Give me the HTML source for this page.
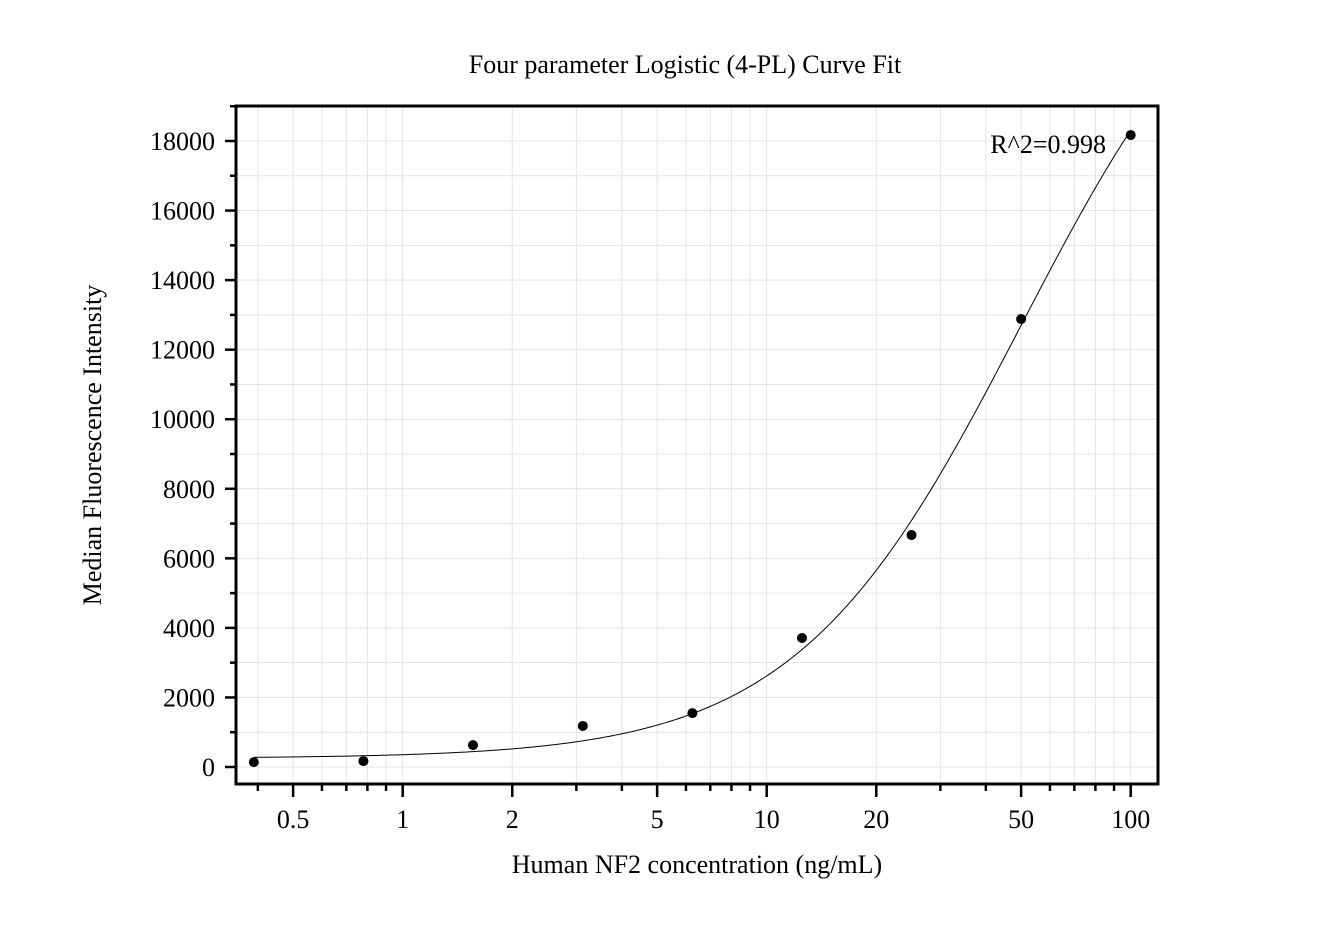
<!DOCTYPE html>
<html><head><meta charset="utf-8"><style>
html,body{margin:0;padding:0;background:#fff;}
svg{display:block;font-family:"Liberation Serif",serif;}
</style></head><body>
<svg id="s" width="1339" height="931" viewBox="0 0 1339 931" xmlns="http://www.w3.org/2000/svg">
<rect width="1339" height="931" fill="#fff"/>
<g id="grid" stroke="#e3e3e3" stroke-width="1"></g>
<path id="curve" fill="none" stroke="#000" stroke-width="1"/>
<g id="pts" fill="#000"></g>
<g id="ticks" stroke="#000" stroke-width="2.5"></g>
<rect x="236" y="106" width="922" height="678" fill="none" stroke="#000" stroke-width="3"/>
<g id="labels" font-size="26" fill="#000"></g>
<text x="685" y="73" font-size="26" text-anchor="middle">Four parameter Logistic (4-PL) Curve Fit</text>
<text x="697" y="873" font-size="26" text-anchor="middle">Human NF2 concentration (ng/mL)</text>
<text transform="translate(101,445) rotate(-90)" font-size="26" text-anchor="middle">Median Fluorescence Intensity</text>
<text x="1106" y="153" font-size="26" text-anchor="end">R^2=0.998</text>
</svg>
<script>
var NS="http://www.w3.org/2000/svg";
function X(v){return 402.7+364*Math.log10(v);}
function Y(v){return 767-v*(626/18000);}
function el(p,t,a,txt){var e=document.createElementNS(NS,t);for(var k in a)e.setAttribute(k,a[k]);if(txt!==undefined)e.textContent=txt;document.getElementById(p).appendChild(e);}
var L=236,R=1158,T=106,B=784;
var xs=[];
[0.1,1,10].forEach(function(d){for(var i=1;i<10;i++){var v=i*d;if(v>=0.4&&v<=100)xs.push(v);}});xs.push(100);
xs.forEach(function(v){var x=X(v);el("grid","line",{x1:x,y1:T,x2:x,y2:B});
 var major=[0.5,1,2,5,10,20,50,100].indexOf(v)>=0;
 el("ticks","line",{x1:x,y1:B,x2:x,y2:B+(major?13:7)});});
for(var v=0;v<=19000;v+=1000){var y=Y(v);el("grid","line",{x1:L,y1:y,x2:R,y2:y});
 var maj=v%2000==0;el("ticks","line",{x1:L,y1:y,x2:L-(maj?11:6),y2:y});
 if(maj&&v<=18000)el("labels","text",{x:L-21,y:y+9,"text-anchor":"end"},String(v));}
[[0.5,"0.5"],[1,"1"],[2,"2"],[5,"5"],[10,"10"],[20,"20"],[50,"50"],[100,"100"]].forEach(function(p){
 el("labels","text",{x:X(p[0]),y:828,"text-anchor":"middle"},p[1]);});
var a=250,d=24900,c=50,b=1.4,dstr="";
for(var i=0;i<=300;i++){var lx=Math.log10(0.39)+i/300*(Math.log10(100)-Math.log10(0.39));var x=Math.pow(10,lx);
 var f=Math.pow(x/c,b);var yv=a+d*f/(1+f);dstr+=(i?"L":"M")+X(x).toFixed(2)+" "+Y(yv).toFixed(2);}
document.getElementById("curve").setAttribute("d",dstr);
[[0.39,140],[0.78,170],[1.56,630],[3.125,1180],[6.25,1550],[12.5,3710],[25,6670],[50,12880],[100,18170]].forEach(function(p){
 el("pts","circle",{cx:X(p[0]),cy:Y(p[1]),r:5});});
</script>
</body></html>
